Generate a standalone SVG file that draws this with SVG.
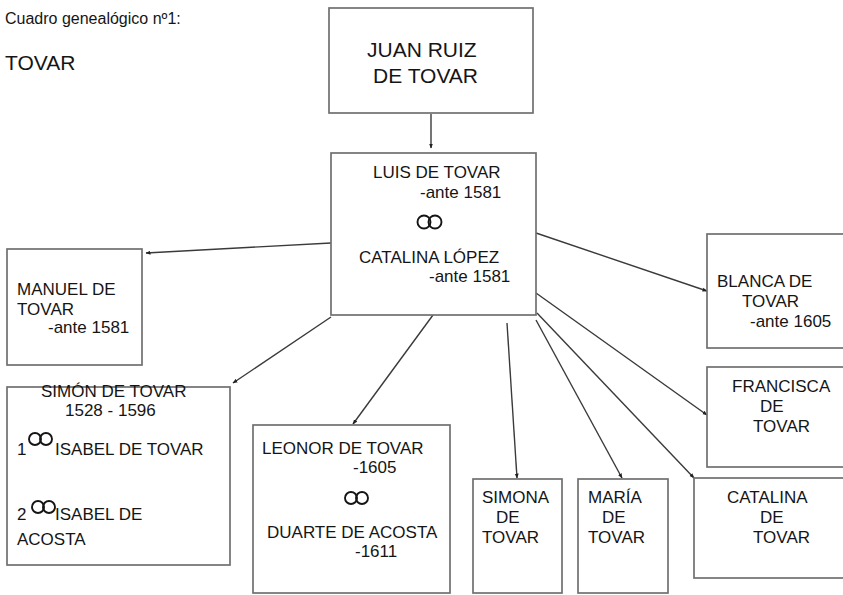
<svg xmlns="http://www.w3.org/2000/svg" width="843" height="595" viewBox="0 0 843 595">
<defs>
<style>
.box{fill:#fff;stroke:#707070;stroke-width:1.7}
.t{font-family:"Liberation Sans",Arial,sans-serif;font-size:17px;fill:#151515}
.big{font-size:21px}
.ring{fill:none;stroke:#151515;stroke-width:1.9}
.con{stroke:#3a3a3a;stroke-width:1.4;fill:none;marker-end:url(#ah)}
</style>
<marker id="ah" viewBox="0 0 10 10" refX="9" refY="5" markerWidth="5" markerHeight="5" orient="auto" markerUnits="userSpaceOnUse">
<path d="M0,1 L10,5 L0,9 z" fill="#222"/>
</marker>
</defs>
<rect width="843" height="595" fill="#fff"/>
<text class="t" x="5" y="24" style="font-size:16px">Cuadro genealógico nº1:</text>
<text class="t big" x="5" y="70">TOVAR</text>

<g id="connectors">
<line class="con" x1="431" y1="114" x2="431" y2="148"/>
<line class="con" x1="331" y1="243" x2="146" y2="253"/>
<line class="con" x1="331" y1="317" x2="233" y2="383"/>
<line class="con" x1="433" y1="315" x2="353" y2="424"/>
<line class="con" x1="507" y1="323" x2="517" y2="478"/>
<line class="con" x1="536" y1="320" x2="622" y2="478"/>
<line class="con" x1="537" y1="313" x2="694" y2="478"/>
<line class="con" x1="536" y1="293" x2="707" y2="415"/>
<line class="con" x1="536" y1="233" x2="707" y2="291"/>
</g>

<g id="juan">
<rect class="box" x="329" y="8" width="204" height="105"/>
<text class="t big" x="367" y="57">JUAN RUIZ</text>
<text class="t big" x="373" y="83">DE TOVAR</text>
</g>

<g id="luis">
<rect class="box" x="331" y="153" width="205" height="162"/>
<text class="t" x="373" y="178">LUIS DE TOVAR</text>
<text class="t" x="420" y="198">-ante 1581</text>
<circle class="ring" cx="424" cy="222" r="6.5"/>
<circle class="ring" cx="435" cy="222" r="6.5"/>
<text class="t" x="359" y="263">CATALINA LÓPEZ</text>
<text class="t" x="429" y="282">-ante 1581</text>
</g>

<g id="manuel">
<rect class="box" x="7" y="249" width="135" height="116"/>
<text class="t" x="17" y="295">MANUEL DE</text>
<text class="t" x="17" y="315">TOVAR</text>
<text class="t" x="48" y="333">-ante 1581</text>
</g>

<g id="simon">
<rect class="box" x="7" y="387" width="223" height="178"/>
<text class="t" x="41" y="397">SIMÓN DE TOVAR</text>
<text class="t" x="65" y="416">1528 - 1596</text>
<text class="t" x="17" y="455">1</text>
<circle class="ring" cx="35" cy="439" r="6"/>
<circle class="ring" cx="46" cy="439" r="6"/>
<text class="t" x="55" y="455">ISABEL DE TOVAR</text>
<text class="t" x="17" y="520">2</text>
<circle class="ring" cx="38" cy="507" r="6"/>
<circle class="ring" cx="49" cy="507" r="6"/>
<text class="t" x="55" y="520">ISABEL DE</text>
<text class="t" x="17" y="545">ACOSTA</text>
</g>

<g id="leonor">
<rect class="box" x="253" y="425" width="197" height="168"/>
<text class="t" x="262" y="454">LEONOR DE TOVAR</text>
<text class="t" x="353" y="473">-1605</text>
<circle class="ring" cx="351" cy="498" r="6"/>
<circle class="ring" cx="362" cy="498" r="6"/>
<text class="t" x="267" y="538">DUARTE DE ACOSTA</text>
<text class="t" x="355" y="557">-1611</text>
</g>

<g id="simona">
<rect class="box" x="473" y="479" width="89" height="114"/>
<text class="t" x="482" y="503">SIMONA</text>
<text class="t" x="496" y="523">DE</text>
<text class="t" x="482" y="543">TOVAR</text>
</g>

<g id="maria">
<rect class="box" x="578" y="479" width="90" height="114"/>
<text class="t" x="588" y="503">MARÍA</text>
<text class="t" x="602" y="523">DE</text>
<text class="t" x="588" y="543">TOVAR</text>
</g>

<g id="catalina">
<rect class="box" x="694" y="478" width="160" height="100"/>
<text class="t" x="727" y="503">CATALINA</text>
<text class="t" x="760" y="523">DE</text>
<text class="t" x="753" y="543">TOVAR</text>
</g>

<g id="blanca">
<rect class="box" x="707" y="234" width="150" height="114"/>
<text class="t" x="717" y="287">BLANCA DE</text>
<text class="t" x="742" y="307">TOVAR</text>
<text class="t" x="750" y="327">-ante 1605</text>
</g>

<g id="francisca">
<rect class="box" x="707" y="367" width="150" height="100"/>
<text class="t" x="732" y="392">FRANCISCA</text>
<text class="t" x="760" y="412">DE</text>
<text class="t" x="753" y="432">TOVAR</text>
</g>
</svg>
